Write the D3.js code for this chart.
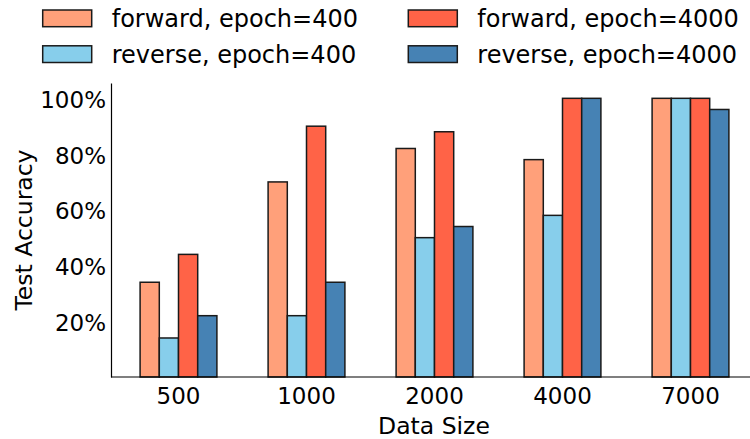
<!DOCTYPE html>
<html>
<head>
<meta charset="utf-8">
<script src="https://cdn.jsdelivr.net/npm/d3@7/dist/d3.min.js"></script>
<style>
  html, body { margin: 0; padding: 0; background: #fff; }
  svg { display: block; }
  text { font-family: "DejaVu Sans", sans-serif; fill: #000; }
</style>
</head>
<body>
<svg id="chart" width="750" height="439"></svg>
<script>
// Data sizes on the x axis
const categories = ["500", "1000", "2000", "4000", "7000"];

// Series: direction of training and number of epochs
const seriesNames = [
  "forward, epoch=400",
  "reverse, epoch=400",
  "forward, epoch=4000",
  "reverse, epoch=4000"
];
const seriesColors = ["#FFA07A", "#87CEEB", "#FF6347", "#4682B4"];

// Test accuracy per data size (fraction)
const forward400  = [0.34, 0.70, 0.82, 0.78, 1.00];
const reverse400  = [0.14, 0.22, 0.50, 0.58, 1.00];
const forward4000 = [0.44, 0.90, 0.88, 1.00, 1.00];
const reverse4000 = [0.22, 0.34, 0.54, 1.00, 0.96];
const seriesValues = [forward400, reverse400, forward4000, reverse4000];

const yTicks = [0.2, 0.4, 0.6, 0.8, 1.0];

const svg = d3.select("#chart");
const tickFont = 23;
const labelFont = 23.5;
const legendFont = 24;

// Scales
const x0 = d3.scaleBand().domain(categories).range([114.5, 754.5]).paddingInner(0).paddingOuter(0);
const x1 = d3.scaleBand().domain(d3.range(seriesNames.length)).range([0, x0.bandwidth() * 0.6]);
const y = d3.scaleLinear().domain([0, 1.055]).range([377, 83]);

// Bars
const bars = svg.append("g");
seriesValues.forEach((vals, si) => {
  bars.selectAll(null)
    .data(vals.map((v, i) => ({ cat: categories[i], v })))
    .join("rect")
    .attr("x", d => x0(d.cat) + x0.bandwidth() * 0.2 + x1(si))
    .attr("y", d => y(d.v))
    .attr("width", x1.bandwidth())
    .attr("height", d => y(0) - y(d.v))
    .attr("fill", seriesColors[si])
    .attr("stroke", "#1a1a1a")
    .attr("stroke-width", 1.5);
});

// Y axis
const yAxis = svg.append("g")
  .attr("transform", "translate(111,0)")
  .call(d3.axisLeft(y).tickValues(yTicks).tickSize(0).tickSizeOuter(0)
    .tickPadding(5).tickFormat(d3.format(".0%")));
yAxis.select(".domain").attr("stroke", "#000").attr("stroke-width", 1.2);
yAxis.selectAll(".tick text")
  .attr("font-size", tickFont)
  .attr("font-family", "DejaVu Sans")
  .attr("dy", null)
  .attr("y", 9);

// X axis
const xAxis = svg.append("g")
  .attr("transform", `translate(0,${y(0)})`)
  .call(d3.axisBottom(x0).tickSize(0).tickSizeOuter(0));
xAxis.select(".domain").remove();
xAxis.selectAll(".tick text")
  .attr("font-size", tickFont)
  .attr("font-family", "DejaVu Sans")
  .attr("dy", null)
  .attr("y", 26.5);
svg.append("line")
  .attr("x1", 111).attr("x2", 750)
  .attr("y1", y(0)).attr("y2", y(0))
  .attr("stroke", "#000").attr("stroke-width", 1.2);

// Axis titles
svg.append("text")
  .attr("x", 434).attr("y", 434)
  .attr("text-anchor", "middle")
  .attr("font-size", labelFont)
  .text("Data Size");
svg.append("text")
  .attr("transform", "translate(32,230) rotate(-90)")
  .attr("text-anchor", "middle")
  .attr("font-size", labelFont)
  .text("Test Accuracy");

// Legend: two columns (forward/reverse at 400, then at 4000), two rows
const legendCols = [42.7, 408.3];
const legendRows = [10, 45.8];
const legend = svg.append("g");
seriesNames.forEach((name, i) => {
  const gx = legendCols[i < 2 ? 0 : 1];
  const gy = legendRows[i % 2];
  legend.append("rect")
    .attr("x", gx).attr("y", gy)
    .attr("width", 49).attr("height", 16.7)
    .attr("fill", seriesColors[i])
    .attr("stroke", "#1a1a1a")
    .attr("stroke-width", 1.5);
  legend.append("text")
    .attr("x", gx + 69).attr("y", gy + 17)
    .attr("font-size", legendFont)
    .text(name);
});
</script>
</body>
</html>
